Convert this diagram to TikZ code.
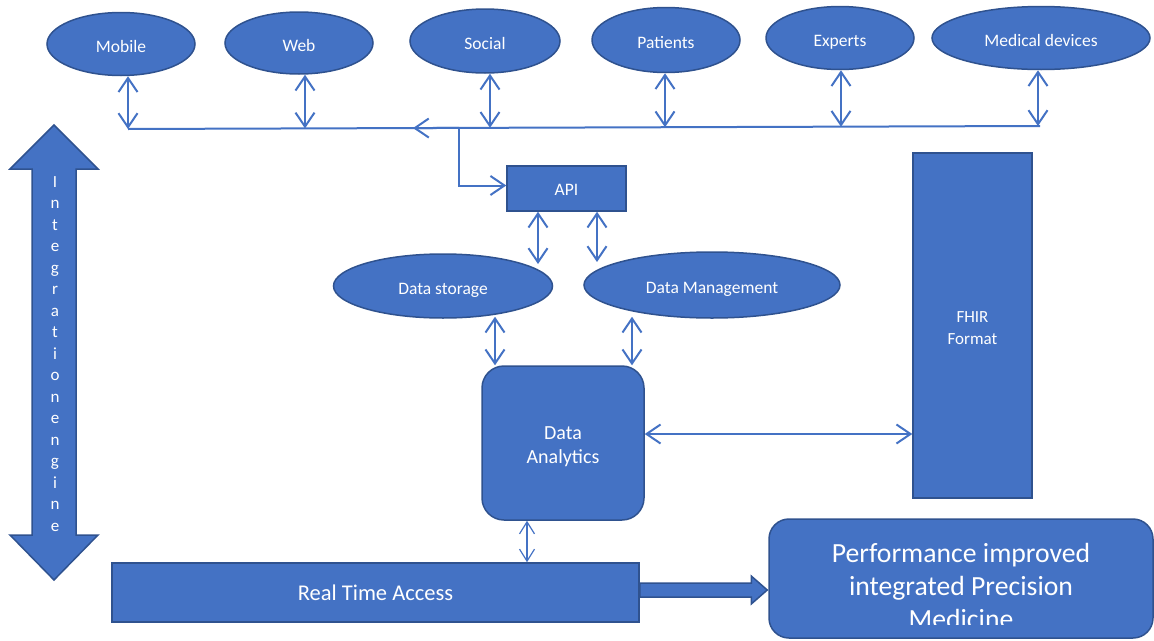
\documentclass[tikz,border=0pt]{standalone}
\usepackage{fontspec}
\setmainfont{Carlito}
\usetikzlibrary{arrows.meta,shapes.geometric,calc}
\definecolor{fillblue}{HTML}{4472C4}
\definecolor{edgeblue}{HTML}{2F528F}
\definecolor{lineblue}{HTML}{4472C4}
\tikzset{
  shapebase/.style={fill=fillblue, draw=edgeblue, line width=1.5pt, text=white, inner sep=0pt, align=center},
  oval/.style={shapebase, ellipse, font=\fontsize{17.5}{20}\selectfont, text height=16pt, text depth=0pt},
  box/.style={shapebase, rectangle},
  conn/.style={draw=lineblue, line width=2pt},
  barbtip/.tip={Straight Barb[length=14pt,width=19pt]},
  dbl/.style={conn, barbtip-barbtip},
  thindbl/.style={draw=lineblue, line width=1.2pt, {Straight Barb[length=12pt,width=15pt]}-{Straight Barb[length=12pt,width=15pt]}},
  whitetext/.style={text=white, inner sep=0pt, align=center},
}
\begin{document}
\begin{tikzpicture}[x=1pt,y=-1pt]
\useasboundingbox (0,0) rectangle (1154,640);

% top ellipses
\node[oval, minimum width=148pt, minimum height=63pt] (mobile) at (121,44) {Mobile};
\node[oval, minimum width=148pt, minimum height=62pt] (web) at (299,43) {Web};
\node[oval, minimum width=150pt, minimum height=64pt] (social) at (485,41) {Social};
\node[oval, minimum width=148pt, minimum height=65pt] (patients) at (666,40) {Patients};
\node[oval, minimum width=148pt, minimum height=63pt] (experts) at (840,38) {Experts};
\node[oval, minimum width=218pt, minimum height=63pt] (meddev) at (1041,38) {Medical devices};

% bus coordinates
\coordinate (b1) at (128,129);
\coordinate (b2) at (305,128.4);
\coordinate (b3) at (490,127.8);
\coordinate (b4) at (665,127.2);
\coordinate (b5) at (841,126.7);
\coordinate (b6) at (1038,126);
\coordinate (bend) at (1040,126);
\coordinate (j) at (459,127.9);
\coordinate (ah) at (413,128.1);

\draw[conn] (b1) -- (bend);
\draw[conn, -barbtip] (j) -- (ah);

\draw[dbl] (mobile.south -| b1) -- (b1);
\draw[dbl] (web.south -| b2) -- (b2);
\draw[dbl] (social.south -| b3) -- (b3);
\draw[dbl] (patients.south -| b4) -- (b4);
\draw[dbl] (experts.south -| b5) -- (b5);
\draw[dbl] (meddev.south -| b6) -- (b6);

% API
\node[box, minimum width=119pt, minimum height=45pt, font=\fontsize{17.5}{20}\selectfont, text height=14pt, text depth=0pt] (api) at (566.5,188.5) {API};
\draw[conn, -barbtip] (j) |- ([yshift=3pt]api.west);

% data storage / management
\node[oval, minimum width=219pt, minimum height=64pt] (dstore) at (443,286) {Data storage};
\node[oval, minimum width=256pt, minimum height=66pt] (dmgmt) at (712,285) {Data Management};

\coordinate (s1) at (538,264);
\coordinate (s2) at (597,262);
\draw[dbl] (api.south -| s1) -- (s1);
\draw[dbl] (api.south -| s2) -- (s2);

% analytics
\node[box, rounded corners=22pt, minimum width=162pt, minimum height=154pt] (analytics) at (563,443) {};
\node[whitetext, font=\fontsize{20}{24}\selectfont] (analyticstext) at (563,447) {Data\\Analytics};

\coordinate (x495) at (495,0);
\coordinate (x632) at (632,0);
\coordinate (x527) at (527,0);
\draw[dbl] ([yshift=2pt]dstore.south -| x495) -- (analytics.north -| x495);
\draw[dbl] ([yshift=2pt]dmgmt.south -| x632) -- (analytics.north -| x632);

% FHIR
\node[box, minimum width=119pt, minimum height=345pt] (fhir) at (972.5,325.5) {};
\node[whitetext, font=\fontsize{17}{22}\selectfont] (fhirtext) at (972.5,328.5) {FHIR\\Format};
\draw[dbl] ([yshift=9pt]analytics.east) -- ([yshift=9pt]analytics.east -| fhir.west);

% integration engine double arrow
\draw[shapebase] (54,125) -- (98,169) -- (76,169) -- (76,535) -- (98,535) -- (54,580) -- (10,535) -- (32,535) -- (32,169) -- (10,169) -- cycle;
\node[whitetext, font=\fontsize{17}{21.5}\selectfont] (intlabel) at (55,354) {I\\n\\t\\e\\g\\r\\a\\t\\i\\o\\n\\e\\n\\g\\i\\n\\e};

% real time access
\node[box, minimum width=527pt, minimum height=59pt, font=\fontsize{22.5}{26}\selectfont] (rta) at (375.5,592.5) {Real Time Access};
\draw[thindbl] (analytics.south -| x527) -- (rta.north -| x527);

% performance box
\node[box, rounded corners=20pt, minimum width=384pt, minimum height=119pt] (perf) at (961,578.5) {};
\begin{scope}
\clip (769,519) rectangle (1153,624);
\node[whitetext, font=\fontsize{27.7}{33}\selectfont] (perftext) at (961,586) {Performance improved\\integrated Precision\\Medicine};
\end{scope}

% block arrow
\coordinate (tip) at ($(perf.west)+(-1,11.5)$);
\draw[shapebase] ($(rta.east)+(0,-9.5)$) -- ($(tip)+(-16,-7)$) -- ($(tip)+(-16,-14)$) -- (tip) -- ($(tip)+(-16,14)$) -- ($(tip)+(-16,7)$) -- ($(rta.east)+(0,4.5)$) -- cycle;
\end{tikzpicture}
\end{document}
